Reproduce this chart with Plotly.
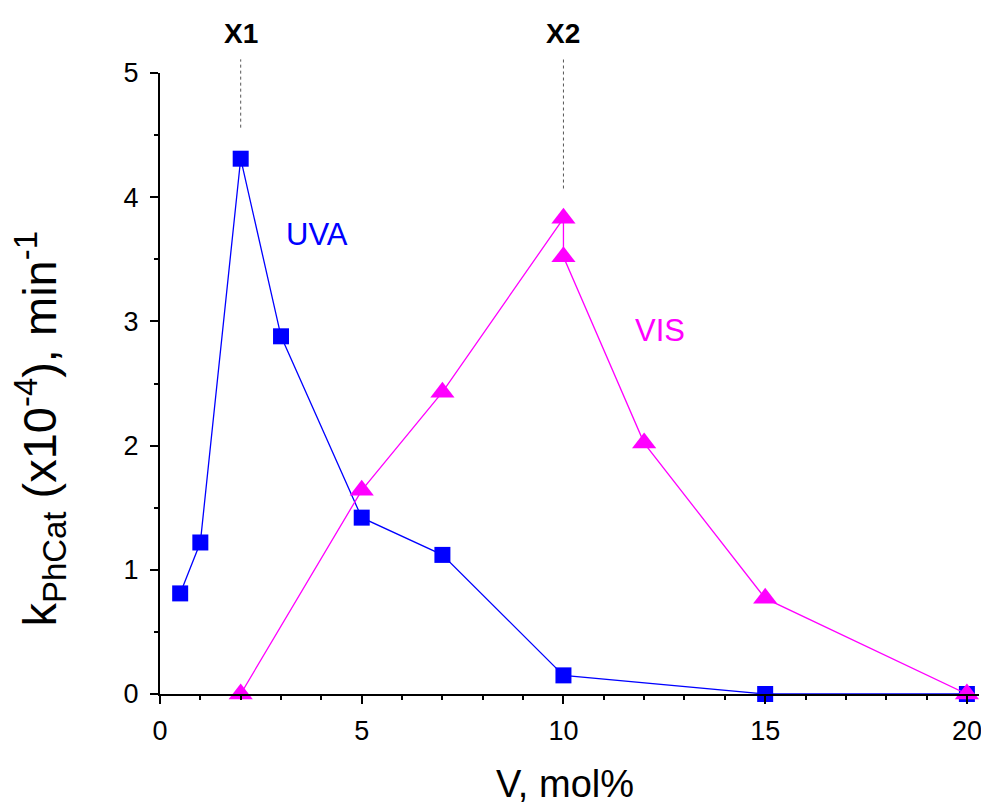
import plotly.graph_objects as go

uva_x = [0.5, 1, 2, 3, 5, 7, 10, 15, 20]
uva_y = [0.81, 1.22, 4.31, 2.88, 1.42, 1.12, 0.15, 0.0, 0.0]
vis_x = [2, 5, 7, 10, 10, 12, 15, 20]
vis_y = [0.0, 1.64, 2.43, 3.83, 3.52, 2.02, 0.77, 0.0]
x_ticks = [0, 5, 10, 15, 20]
y_ticks = [0, 1, 2, 3, 4, 5]

FONT = "Liberation Sans, Arial, sans-serif"
fig = go.Figure()
fig.add_trace(go.Scatter(x=uva_x, y=uva_y, mode="lines+markers", name="UVA",
                         line=dict(color="#0000FF", width=1.3),
                         marker=dict(symbol="square", size=16, color="#0000FF"),
                         cliponaxis=False))
fig.add_trace(go.Scatter(x=vis_x, y=vis_y, mode="lines+markers", name="VIS",
                         line=dict(color="#FF00FF", width=1.3),
                         marker=dict(symbol="triangle-up", size=21, color="#FF00FF"),
                         cliponaxis=False))

YMAX = 5.0
for xv, ybot, lab in [(2, 4.56, "X1"), (10, 4.07, "X2")]:
    fig.add_shape(type="line", xref="x", yref="paper", x0=xv, x1=xv,
                  y0=ybot / YMAX, y1=5.11 / YMAX,
                  line=dict(color="#555555", width=1, dash="dot"))
    fig.add_annotation(x=xv, y=1, xref="x", yref="paper", yanchor="middle", yshift=40,
                       text="<b>%s</b>" % lab, showarrow=False,
                       font=dict(family=FONT, size=28, color="black"))

fig.add_annotation(x=3.9, y=3.70, text="UVA", showarrow=False,
                   font=dict(family=FONT, size=31, color="#0000FF"))
fig.add_annotation(x=12.4, y=2.93, text="VIS", showarrow=False,
                   font=dict(family=FONT, size=31, color="#FF00FF"))

# axis titles
fig.add_annotation(x=0.494, y=0, xref="paper", yref="paper", xanchor="center", yanchor="middle",
                   yshift=-90, text="V, mol%", showarrow=False,
                   font=dict(family=FONT, size=38, color="black"))
fig.add_annotation(x=0, y=0.426, xref="paper", yref="paper", xanchor="center", yanchor="middle",
                   xshift=-120, textangle=-90,
                   text="k<sub>PhCat</sub> (x10<sup>-4</sup>), min<sup>-1</sup>", showarrow=False,
                   font=dict(family=FONT, size=47, color="black"))

fig.update_layout(
    width=981, height=797, showlegend=False,
    paper_bgcolor="white", plot_bgcolor="white",
    margin=dict(l=152, r=7, t=65, b=111),
    font=dict(family=FONT, size=27, color="black"),
)
fig.update_xaxes(range=[0, 20.3], tickvals=x_ticks, ticks="outside", ticklen=8, tickwidth=2,
                 tickcolor="black",
                 showline=True, linecolor="black", linewidth=2, showgrid=False, zeroline=False,
                 minor=dict(dtick=1, ticks="outside", ticklen=4, tickcolor="black", tickwidth=1.5),
                 tickfont=dict(size=27), ticklabelstandoff=4)
fig.update_yaxes(range=[0, 5], tickvals=y_ticks, ticks="outside", ticklen=8, tickwidth=2,
                 tickcolor="black",
                 showline=True, linecolor="black", linewidth=2, showgrid=False, zeroline=False,
                 minor=dict(dtick=0.5, ticks="outside", ticklen=4, tickcolor="black", tickwidth=1.5),
                 tickfont=dict(size=27), ticklabelstandoff=6)

fig.write_html("out.html")
